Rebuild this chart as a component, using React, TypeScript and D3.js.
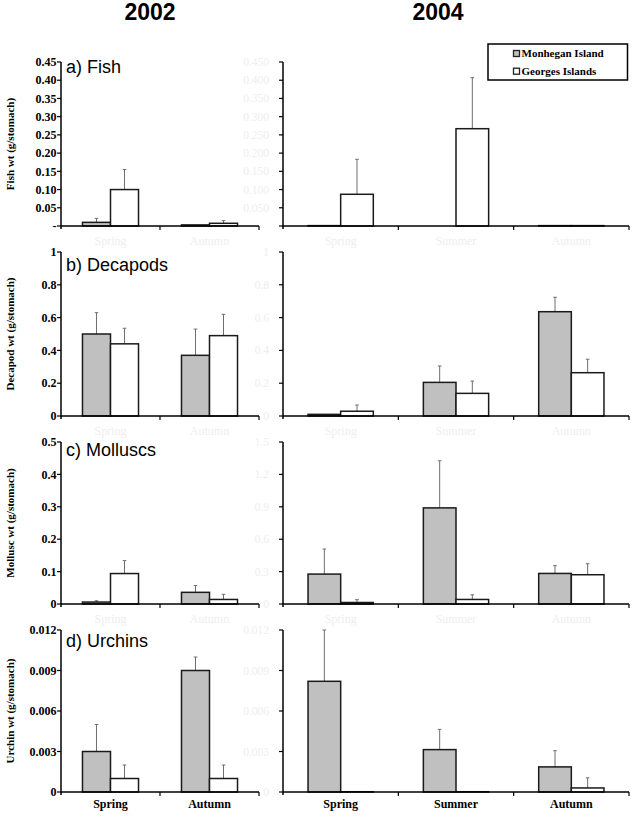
import React from 'react';
import * as d3 from 'd3';

// ---------- data ----------
const seasons2002 = ['Spring', 'Autumn'];
const seasons2004 = ['Spring', 'Summer', 'Autumn'];
const seriesNames = ['Monhegan Island', 'Georges Islands'];
const yearTitles = ['2002', '2004'];

// Fish
const fish2002Mon = [0.010, 0.003];
const fish2002MonErr = [0.011, 0.0];
const fish2002Geo = [0.100, 0.0074];
const fish2002GeoErr = [0.055, 0.0075];
const fish2004Mon = [0.001, 0.0, 0.001];
const fish2004MonErr = [0.0, 0.0, 0.0];
const fish2004Geo = [0.087, 0.267, 0.001];
const fish2004GeoErr = [0.096, 0.14, 0.0];

// Decapods
const dec2002Mon = [0.50, 0.37];
const dec2002MonErr = [0.13, 0.16];
const dec2002Geo = [0.44, 0.49];
const dec2002GeoErr = [0.095, 0.13];
const dec2004Mon = [0.01, 0.205, 0.636];
const dec2004MonErr = [0.0, 0.10, 0.088];
const dec2004Geo = [0.029, 0.138, 0.264];
const dec2004GeoErr = [0.038, 0.075, 0.082];

// Molluscs
const mol2002Mon = [0.006, 0.036];
const mol2002MonErr = [0.004, 0.021];
const mol2002Geo = [0.094, 0.014];
const mol2002GeoErr = [0.04, 0.016];
const mol2004Mon = [0.277, 0.89, 0.283];
const mol2004MonErr = [0.232, 0.436, 0.072];
const mol2004Geo = [0.014, 0.042, 0.271];
const mol2004GeoErr = [0.026, 0.043, 0.102];

// Urchins
const urc2002Mon = [0.003, 0.009];
const urc2002MonErr = [0.002, 0.001];
const urc2002Geo = [0.001, 0.001];
const urc2002GeoErr = [0.001, 0.001];
const urc2004Mon = [0.0082, 0.00314, 0.00186];
const urc2004MonErr = [0.0038, 0.0015, 0.0012];
const urc2004Geo = [0.00002, 0.00002, 0.0003];
const urc2004GeoErr = [0.0, 0.0, 0.00075];

// Tick values / labels
const fishTicks2002 = [0, 0.05, 0.1, 0.15, 0.2, 0.25, 0.3, 0.35, 0.4, 0.45];
const fishTicks2004 = [0, 0.05, 0.1, 0.15, 0.2, 0.25, 0.3, 0.35, 0.4, 0.45];
const decTicks = [0, 0.2, 0.4, 0.6, 0.8, 1];
const molTicks2002 = [0, 0.1, 0.2, 0.3, 0.4, 0.5];
const molTicks2004 = [0, 0.3, 0.6, 0.9, 1.2, 1.5];
const urcTicks = [0, 0.003, 0.006, 0.009, 0.012];

const panelLabels = ['a) Fish', 'b) Decapods', 'c) Molluscs', 'd) Urchins'];
const yTitles = ['Fish wt (g/stomach)', 'Decapod wt (g/stomach)', 'Mollusc wt (g/stomach)', 'Urchin wt (g/stomach)'];

// ---------- style / layout ----------
const W = 633, H = 817;
const SERIF = '"Liberation Serif", "Times New Roman", serif';
const SANS = '"Liberation Sans", Arial, sans-serif';
const GRAY = '#c0c0c0';
const FAINT = '#eeeeee';
const ERR = '#6e6e6e';
const rowTop = [62, 252, 442, 630];
const rowBottom = [226, 416, 604, 792];
const labelOffset = [11, 18.5, 13.5, 16.5];
const leftRange = [61, 259];
const rightRange = [283, 629];

const fmt2 = (v: number) => (v === 0 ? '-' : d3.format('.2f')(v));
const fmt3 = (v: number) => (v === 0 ? '' : d3.format('.3f')(v));
const fmtG = (v: number) => String(+v.toFixed(4));

type Sub = {
  cats: string[];
  mon: number[]; monErr: number[];
  geo: number[]; geoErr: number[];
  ticks: number[]; fmt: (v: number) => string;
};

const rows: { left: Sub; right: Sub }[] = [
  {
    left: { cats: seasons2002, mon: fish2002Mon, monErr: fish2002MonErr, geo: fish2002Geo, geoErr: fish2002GeoErr, ticks: fishTicks2002, fmt: fmt2 },
    right: { cats: seasons2004, mon: fish2004Mon, monErr: fish2004MonErr, geo: fish2004Geo, geoErr: fish2004GeoErr, ticks: fishTicks2004, fmt: fmt3 },
  },
  {
    left: { cats: seasons2002, mon: dec2002Mon, monErr: dec2002MonErr, geo: dec2002Geo, geoErr: dec2002GeoErr, ticks: decTicks, fmt: fmtG },
    right: { cats: seasons2004, mon: dec2004Mon, monErr: dec2004MonErr, geo: dec2004Geo, geoErr: dec2004GeoErr, ticks: decTicks, fmt: fmtG },
  },
  {
    left: { cats: seasons2002, mon: mol2002Mon, monErr: mol2002MonErr, geo: mol2002Geo, geoErr: mol2002GeoErr, ticks: molTicks2002, fmt: fmtG },
    right: { cats: seasons2004, mon: mol2004Mon, monErr: mol2004MonErr, geo: mol2004Geo, geoErr: mol2004GeoErr, ticks: molTicks2004, fmt: fmtG },
  },
  {
    left: { cats: seasons2002, mon: urc2002Mon, monErr: urc2002MonErr, geo: urc2002Geo, geoErr: urc2002GeoErr, ticks: urcTicks, fmt: fmtG },
    right: { cats: seasons2004, mon: urc2004Mon, monErr: urc2004MonErr, geo: urc2004Geo, geoErr: urc2004GeoErr, ticks: urcTicks, fmt: fmtG },
  },
];

function SubPlot({ sub, range, top, bottom, isRight, isBottom, keyp }: any) {
  const s: Sub = sub;
  const maxV = s.ticks[s.ticks.length - 1];
  const y = d3.scaleLinear().domain([0, maxV]).range([bottom, top]);
  const x = d3.scaleBand<string>().domain(s.cats).range(range).paddingInner(0.434).paddingOuter(0.217);
  const xs = d3.scaleBand<string>().domain(seriesNames).range([0, x.bandwidth()]).padding(0);
  const tickColor = isRight ? FAINT : '#000';
  const labelX = isRight ? range[0] - 14 : range[0] - 4.5;
  const boundaries = d3.range(s.cats.length + 1).map((i) => range[0] + (i * (range[1] - range[0])) / s.cats.length);
  const elems: any[] = [];
  s.cats.forEach((c, i) => {
    const series = [
      { name: seriesNames[0], v: s.mon[i], e: s.monErr[i], fill: GRAY },
      { name: seriesNames[1], v: s.geo[i], e: s.geoErr[i], fill: '#fff' },
    ];
    series.forEach((d) => {
      const bx = (x(c) as number) + (xs(d.name) as number);
      const bw = xs.bandwidth();
      const cx = bx + bw / 2;
      if (d.e > 0) {
        elems.push(
          <g key={`${keyp}-e-${c}-${d.name}`} stroke={ERR} strokeWidth={1}>
            <line x1={cx} x2={cx} y1={y(d.v)} y2={y(d.v + d.e)} />
            <line x1={cx - 1.8} x2={cx + 1.8} y1={y(d.v + d.e)} y2={y(d.v + d.e)} />
          </g>
        );
      }
      elems.push(
        <rect key={`${keyp}-b-${c}-${d.name}`} x={bx} y={y(d.v)} width={bw} height={Math.max(0, bottom - y(d.v))}
          fill={d.fill} stroke="#1a1a1a" strokeWidth={1.5} />
      );
    });
  });
  return (
    <g>
      {elems}
      {/* y axis */}
      <line x1={range[0]} x2={range[0]} y1={top} y2={bottom + 3} stroke="#000" strokeWidth={1.5} />
      {s.ticks.map((t) => (
        <g key={`${keyp}-yt-${t}`}>
          <line x1={range[0] - 4} x2={range[0]} y1={y(t)} y2={y(t)} stroke="#000" strokeWidth={1.2} />
          <text x={labelX} y={y(t)} dy="0.35em" textAnchor="end" fontFamily={SERIF} fontSize={isRight ? 11.5 : 12}
            fontWeight={isRight ? 'normal' : 'bold'} fill={tickColor}>{s.fmt(t)}</text>
        </g>
      ))}
      {/* x axis */}
      <line x1={range[0]} x2={range[1]} y1={bottom} y2={bottom} stroke="#000" strokeWidth={1.5} />
      {boundaries.slice(1).map((b, i) => (
        <line key={`${keyp}-xt-${i}`} x1={b} x2={b} y1={bottom} y2={bottom + 4} stroke="#000" strokeWidth={1.2} />
      ))}
      {s.cats.map((c) => (
        <text key={`${keyp}-xl-${c}`} x={(x(c) as number) + x.bandwidth() / 2} y={isBottom ? bottom + 16 : bottom + 18.5}
          textAnchor="middle" fontFamily={SERIF} fontSize={12} fontWeight={isBottom ? 'bold' : 'normal'} fill={isBottom ? '#000' : FAINT}>{c}</text>
      ))}
    </g>
  );
}

export default function App() {
  return (
    <svg width={W} height={H} style={{ position: 'absolute', left: 0, top: 0, background: '#fff' }}>
      <rect width={W} height={H} fill="#fff" />
      <text x={150} y={20} textAnchor="middle" fontFamily={SANS} fontWeight="bold" fontSize={23}>{yearTitles[0]}</text>
      <text x={438} y={20} textAnchor="middle" fontFamily={SANS} fontWeight="bold" fontSize={23}>{yearTitles[1]}</text>
      {rows.map((r, i) => (
        <g key={`row-${i}`}>
          <SubPlot sub={r.left} range={leftRange} top={rowTop[i]} bottom={rowBottom[i]} isRight={false} isBottom={i === rows.length - 1} keyp={`l${i}`} />
          <SubPlot sub={r.right} range={rightRange} top={rowTop[i]} bottom={rowBottom[i]} isRight={true} isBottom={i === rows.length - 1} keyp={`r${i}`} />
          <text x={66} y={rowTop[i] + labelOffset[i]} fontFamily={SANS} fontSize={18}>{panelLabels[i]}</text>
          <text transform={`translate(10,${(rowTop[i] + rowBottom[i]) / 2}) rotate(-90)`} textAnchor="middle" dy="0.35em"
            fontFamily={SERIF} fontWeight="bold" fontSize={11}>{yTitles[i]}</text>
        </g>
      ))}
      {/* legend */}
      <g>
        <rect x={488} y={44} width={139.5} height={36} fill="#fff" stroke="#000" strokeWidth={1.5} />
        {seriesNames.map((n, i) => (
          <g key={`lg-${n}`}>
            <rect x={513.5} y={50.5 + i * 17.7} width={6} height={6} fill={i === 0 ? GRAY : '#fff'} stroke="#222" strokeWidth={1.3} />
            <text x={521.5} y={53.5 + i * 17.7} dy="0.35em" fontFamily={SERIF} fontWeight="bold" fontSize={11}>{n}</text>
          </g>
        ))}
      </g>
    </svg>
  );
}
